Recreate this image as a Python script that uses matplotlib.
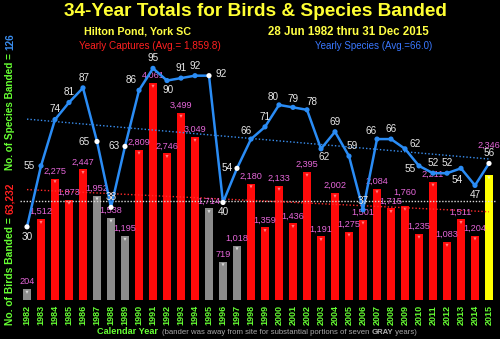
import numpy as np
import matplotlib
matplotlib.use("Agg")
import matplotlib.pyplot as plt
from matplotlib.transforms import IdentityTransform

plt.rcParams['font.family'] = ['Liberation Sans', 'DejaVu Sans']

# ---------------- data ----------------
years = list(range(1982, 2016))
birds = [204, 1512, 2275, 1873, 2447, 1952, 1538, 1195, 2809, 4061,
         2746, 3499, 3049, 1714, 719, 1018, 2180, 1359, 2133, 1436,
         2395, 1191, 2002, 1275, 1501, 2084, 1715, 1760, 1235, 2211,
         1083, 1511, 1204, 2346]
species = [30, 55, 74, 81, 87, 65, 38, 63, 86, 95,
           90, 91, 92, 92, 40, 54, 66, 71, 80, 79,
           78, 62, 69, 59, 37, 66, 66, 62, 55, 52,
           52, 54, 47, 56]
gray_years = [1982, 1987, 1988, 1989, 1995, 1996, 1997]
highlight_year = 2015
birds_avg = 1859.8
species_avg = 66.0
total_birds = "63,232"
total_species = "126"

# label placement (pixels) for species numbers
species_label_offsets = [(0, -10), (-12, 0), (0, 11), (0, 10), (1, 10), (-13, 0), (0, 10),
                         (-11, 0), (-8, 10), (0, 10), (1, -9), (0, 10), (0, 10), (12, 2),
                         (0, -10), (-10, 0), (-5, 8), (0, 10), (-6, 8), (0, 8), (5, 8),
                         (3, -8), (0, 10), (3, 10), (0, 9), (-6, 8), (0, 10), (10, 5),
                         (-9, -3), (0, 10), (0, 10), (-4, -12), (0, -10), (0, 10)]
# vertical gap (pixels) between bar top and its label
bird_label_gap = {2009: 9, 2015: 25}

W, H = 500, 339
fig = plt.figure(figsize=(5, 3.39), dpi=100, facecolor='black')
renderer = fig.canvas.get_renderer()


def fx(px):
    return px / W


def fy(py):
    return 1 - py / H


ax = fig.add_axes([fx(20), fy(300), fx(496) - fx(20), fy(33) - fy(300)])
ax.set_facecolor('black')
ax.set_xlim(1981.5, 2015.5)
ax.set_ylim(0, 5000)
ax2 = ax.twinx()
ax2.set_ylim(0, 109.5)
for a in (ax, ax2):
    for s in a.spines.values():
        s.set_visible(False)
    a.set_yticks([])
ax2.patch.set_visible(False)

# bars
bar_colors = []
for y in years:
    if y in gray_years:
        bar_colors.append('#8c8c8c')
    elif y == highlight_year:
        bar_colors.append('#ffff00')
    else:
        bar_colors.append('#ff0a0a')
ax.bar(years, birds, width=0.55, color=bar_colors, edgecolor='none', zorder=2)
# bar top caps
cap_colors = ['#dcdcdc' if y in gray_years else ('#ffffaa' if y == highlight_year else '#ff8080') for y in years]
ax.scatter(years, np.array(birds) - 60, marker='v', s=5, c=cap_colors, zorder=3, linewidths=0)

# averages and trends (birds)
ax.axhline(birds_avg, color='#d8d8d8', lw=1.0, ls=(0, (1, 1.2)), zorder=4)
bt = np.polyfit(years, birds, 1)
ax.plot(years, np.polyval(bt, years), color='#ff2a2a', lw=1.0, ls=(0, (1, 1.5)), zorder=4)

# bird labels
for y, b in zip(years, birds):
    dy = bird_label_gap.get(y, 3)
    ax.annotate(f"{b:,}", (y, b), xytext=(0, dy), textcoords='offset pixels',
                ha='center', va='bottom', fontsize=6.6, color='#e466d8', zorder=5)

# species trend
st = np.polyfit(years, species, 1)
ax2.plot(years, np.polyval(st, years), color='#3a8ff0', lw=1.0, ls=(0, (1, 1.5)), zorder=3)
# species line
ax2.plot(years, species, color='#2a8cf5', lw=1.8, zorder=4)
mcols = ['white' if (y in gray_years or y == highlight_year) else '#2a8cf5' for y in years]
ax2.scatter(years, species, s=14, c=mcols, zorder=5, linewidths=0)
for y, s, (dx, dy) in zip(years, species, species_label_offsets):
    ax2.annotate(str(s), (y, s), xytext=(dx, dy), textcoords='offset pixels',
                 ha='center', va='center', fontsize=7.2, color='#e8e8e8', zorder=6)

# x ticks
ax.set_xticks(years)
ax.set_xticklabels([str(y) for y in years], rotation=90, fontsize=6.5, fontweight='bold',
                   color='#66ff33')
ax.tick_params(axis='x', length=0, pad=3.5)
ax2.tick_params(axis='x', length=0)


# ---------------- texts ----------------
def fit_w(t, target):
    bb = t.get_window_extent(renderer)
    t.set_fontsize(t.get_fontsize() * target / bb.width)


def ctext(s, cx, cy, width, color, size=10, weight='normal'):
    t = fig.text(cx, H - cy, s, transform=IdentityTransform(), ha='center', va='center',
                 color=color, fontsize=size, fontweight=weight)
    fit_w(t, width)
    return t


ctext("34-Year Totals for Birds & Species Banded", 255.5, 12, 381, '#ffff33', 12, 'bold')
ctext("Hilton Pond, York SC", 137, 32, 107, '#ffff44', 8, 'bold')
ctext("28 Jun 1982 thru 31 Dec 2015", 348, 32, 161, '#ffff44', 8, 'bold')
ctext("Yearly Captures (Avg.= 1,859.8)", 149.5, 46, 143, '#ff2020', 7)
ctext("Yearly Species (Avg.=66.0)", 374, 46, 118, '#3a78ff', 7)


def chain(parts, pos, start, length, size, vertical):
    """Draw a multi-coloured run of text starting at `start` and spanning `length` pixels."""
    def draw(sz):
        objs = []
        cur = (H - start) if vertical else start
        for s, c, w in parts:
            if vertical:
                t = fig.text(pos, cur, s, transform=IdentityTransform(), ha='center', va='bottom',
                             rotation=90, color=c, fontsize=sz, fontweight=w)
                bb = t.get_window_extent(renderer)
                cur = bb.y1
            else:
                t = fig.text(cur, H - pos, s, transform=IdentityTransform(), ha='left', va='center',
                             color=c, fontsize=sz, fontweight=w)
                bb = t.get_window_extent(renderer)
                cur = bb.x1
            objs.append(t)
        total = (cur - (H - start)) if vertical else (cur - start)
        return objs, total
    objs, total = draw(size)
    for o in objs:
        o.remove()
    draw(size * length / total)


chain([("No. of Birds Banded = ", '#66ff33', 'bold'), (total_birds, '#ff2020', 'bold')],
      10, 325, 143, 7, True)
chain([("No. of Species Banded = ", '#66ff33', 'bold'), (total_species, '#3a8ef0', 'bold')],
      10, 170, 137, 7, True)

chain([("Calendar Year", '#66ff33', 'bold')], 332, 97, 61, 8, False)
chain([("(bander was away from site for substantial portions of seven ", '#a8a8a8', 'normal'),
       ("GRAY", '#b0b0b0', 'bold'), (" years)", '#a8a8a8', 'normal')], 332, 162, 257, 6, False)

fig.savefig('out.png', dpi=100, facecolor='black')
